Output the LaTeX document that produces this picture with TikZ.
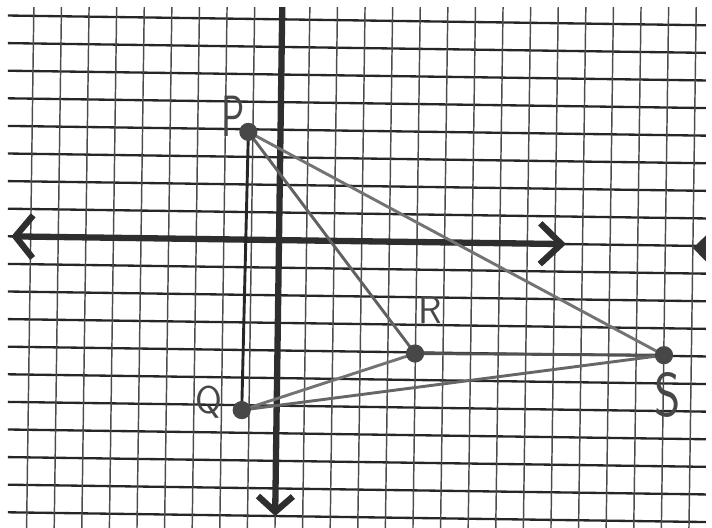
\documentclass[tikz,border=0pt]{standalone}
\usetikzlibrary{arrows.meta}
\begin{document}
\begin{tikzpicture}[
  gridh/.style={black!85, line width=2.4pt},
  gridv/.style={black!70, line width=1.5pt},
  axisline/.style={black!82, line width=6.5pt},
  axistip/.style={-{Straight Barb[length=16pt, width=36pt]}},
  dot/.style={circle, fill=black!72, inner sep=0pt, minimum size=0.66cm},
  side/.style={line width=3pt},
  letter/.style={text=black!72, font=\sffamily\fontsize{40}{40}\selectfont, inner sep=0pt}
]
\useasboundingbox (-10.11,-10.40) rectangle (15.69,8.70);
% graph paper, a little turned
\begin{scope}
\clip (-9.82,-10.40) rectangle (15.47,8.44);
\begin{scope}[rotate=-0.8]
\foreach \y in {-11,...,9} \draw[gridh] (-11,\y) -- (17,\y);
\foreach \x in {-11,...,16} \draw[gridv] (\x,-11) -- (\x,10);
% axes
\coordinate (ytop) at (0,9);
\coordinate (ybot) at (0,-10.0);
\coordinate (xleft) at (-9.7,0);
\coordinate (xright) at (10.4,0);
\draw[axisline, axistip] (ytop) -- (ybot);
\draw[axisline, {Straight Barb[length=18pt, width=44pt]}-{Straight Barb[length=22pt, width=42pt]}] (xleft) -- (xright);
\end{scope}
% piece of a tip at the right edge
\fill[black!80] (15.0,-0.29) -- (15.5,0.2) -- (15.5,-0.8) -- cycle;
\end{scope}
% the four points
\coordinate (p) at (-1.11,3.92);
\coordinate (q) at (-1.35,-6.16);
\coordinate (r) at (4.93,-4.11);
\coordinate (s) at (13.95,-4.17);
\draw[side, black!85] (p) -- (q);
\draw[side, black!62] (p) -- (r);
\draw[side, black!55] (p) -- (s);
\draw[side, black!68] (r) -- (s);
\draw[side, black!55] (q) -- (r);
\draw[side, black!60] (q) -- (s);
\node[dot] (pdot) at (p) {};
\node[dot] (qdot) at (q) {};
\node[dot] (rdot) at (r) {};
\node[dot] (sdot) at (s) {};
% labels
\node[letter] (plabel) at (-1.68,4.49) {\scalebox{1}[1.5]{P}};
\node[letter] (qlabel) at (-2.55,-5.89) {Q};
\node[letter] (rlabel) at (5.49,-2.54) {R};
\node[letter] (slabel) at (14.09,-5.60) {\scalebox{1.3}[1.6]{S}};
\end{tikzpicture}
\end{document}
